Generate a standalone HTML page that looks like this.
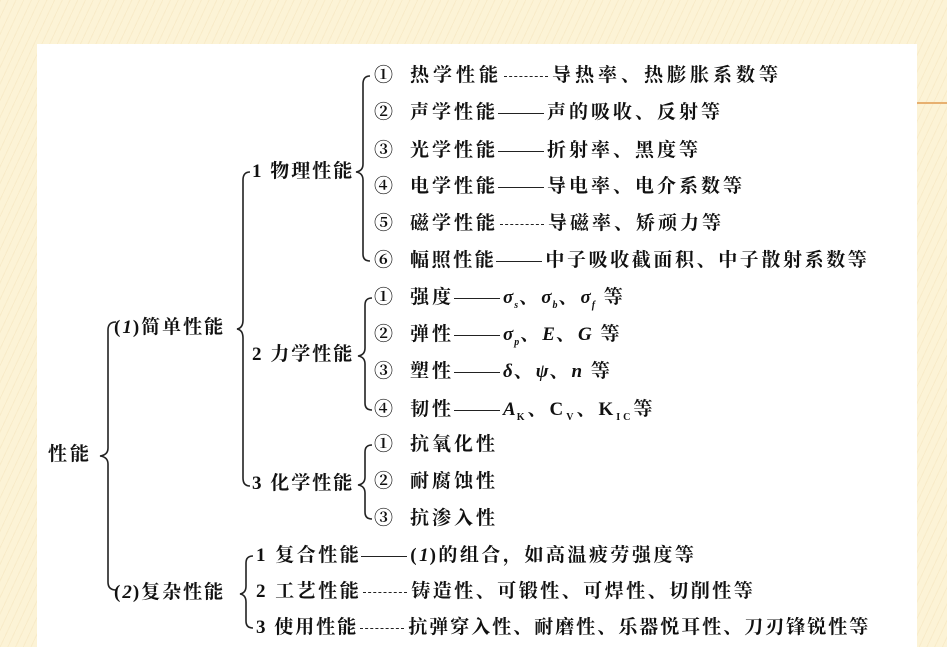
<!DOCTYPE html>
<html><head><meta charset="utf-8"><style>
html,body{margin:0;padding:0;}
body{width:947px;height:647px;position:relative;overflow:hidden;background:#fcf3d6;
background-image:repeating-linear-gradient(115deg,rgba(230,200,140,.18) 0 1px,transparent 1px 7px);}
.panel{position:absolute;left:37px;top:44px;width:880px;height:603px;background:#fff;}
.t{position:absolute;font-family:"Liberation Serif","Noto Serif CJK SC","Noto Sans CJK SC",serif;font-size:19px;line-height:24px;color:#111;font-weight:bold;white-space:nowrap;letter-spacing:3px;}
.n{display:inline-block;width:36px;letter-spacing:0;}
.s{display:inline-block;width:46px;height:0;border-top:1.6px solid #222;vertical-align:middle;margin:0 3px 0 0;}
.d{display:inline-block;width:44px;height:0;border-top:1.8px dashed #222;vertical-align:middle;margin:0 4px 0 2px;}
i{font-family:"Liberation Serif",serif;letter-spacing:1px;}
sub{font-size:10px;}
</style></head><body>
<div class="panel"></div>
<div style="position:absolute;left:917px;top:102px;width:30px;height:2px;background:#e7b070"></div>
<svg style="position:absolute;left:0;top:0" width="947" height="647">
<g fill="none" stroke="#222" stroke-width="1.6">
<path d="M116,322 Q108,322 108,330 L108,448 Q108,455 100,456 Q108,457 108,464 L108,582 Q108,590 116,590"/>
<path d="M250,172 Q243,172 243,180 L243,320 Q243,328 237,329 Q243,330 243,338 L243,478 Q243,486 250,486"/>
<path d="M370,76 Q363,76 363,84 L363,164 Q363,171 356,172 Q363,173 363,180 L363,254 Q363,261 370,261"/>
<path d="M372,298 Q365,298 365,305 L365,348 Q365,355 358,356 Q365,357 365,364 L365,403 Q365,410 372,410"/>
<path d="M372,445 Q365,445 365,452 L365,477 Q365,484 358,485 Q365,486 365,493 L365,512 Q365,519 372,519"/>
<path d="M253,556 Q246,556 246,563 L246,586 Q246,593 240,594 Q246,595 246,602 L246,621 Q246,628 253,628"/>
</g></svg>
<div class="t" style="left:48px;top:443px">性能</div>
<div class="t" style="left:114px;top:316px;letter-spacing:2px">(<i>1</i>)简单性能</div>
<div class="t" style="left:114px;top:581px;letter-spacing:2px">(<i>2</i>)复杂性能</div>
<div class="t" style="left:252px;top:160px;letter-spacing:2px">1 物理性能</div>
<div class="t" style="left:252px;top:343px;letter-spacing:2px">2 力学性能</div>
<div class="t" style="left:252px;top:472px;letter-spacing:2px">3 化学性能</div>
<div class="t" style="left:374px;top:64px;letter-spacing:4px"><span class="n">①</span>热学性能<span class="d"></span>导热率、热膨胀系数等</div>
<div class="t" style="left:374px;top:101px"><span class="n">②</span>声学性能<span class="s"></span>声的吸收、反射等</div>
<div class="t" style="left:374px;top:139px"><span class="n">③</span>光学性能<span class="s"></span>折射率、黑度等</div>
<div class="t" style="left:374px;top:175px"><span class="n">④</span>电学性能<span class="s"></span>导电率、电介系数等</div>
<div class="t" style="left:374px;top:212px"><span class="n">⑤</span>磁学性能<span class="d"></span>导磁率、矫顽力等</div>
<div class="t" style="left:374px;top:249px;letter-spacing:2.6px"><span class="n">⑥</span>幅照性能<span class="s"></span>中子吸收截面积、中子散射系数等</div>
<div class="t" style="left:374px;top:286px"><span class="n">①</span>强度<span class="s"></span><i>σ<sub>s</sub></i>、<i>σ<sub>b</sub></i>、<i>σ<sub>f</sub></i> 等</div>
<div class="t" style="left:374px;top:323px"><span class="n">②</span>弹性<span class="s"></span><i>σ<sub>p</sub></i>、<i>E</i>、<i>G</i> 等</div>
<div class="t" style="left:374px;top:360px"><span class="n">③</span>塑性<span class="s"></span><i>δ</i>、<i>ψ</i>、<i>n</i> 等</div>
<div class="t" style="left:374px;top:398px"><span class="n">④</span>韧性<span class="s"></span><i>A</i><sub>K</sub>、C<sub>V</sub>、K<sub>IC</sub>等</div>
<div class="t" style="left:374px;top:433px"><span class="n">①</span>抗氧化性</div>
<div class="t" style="left:374px;top:470px"><span class="n">②</span>耐腐蚀性</div>
<div class="t" style="left:374px;top:507px"><span class="n">③</span>抗渗入性</div>
<div class="t" style="left:256px;top:544px;letter-spacing:2.5px">1 复合性能<span class="s"></span>(<i>1</i>)的组合，如高温疲劳强度等</div>
<div class="t" style="left:256px;top:580px;letter-spacing:2.5px">2 工艺性能<span class="d"></span>铸造性、可锻性、可焊性、切削性等</div>
<div class="t" style="left:256px;top:616px;letter-spacing:2px">3 使用性能<span class="d"></span>抗弹穿入性、耐磨性、乐器悦耳性、刀刃锋锐性等</div>
</body></html>
